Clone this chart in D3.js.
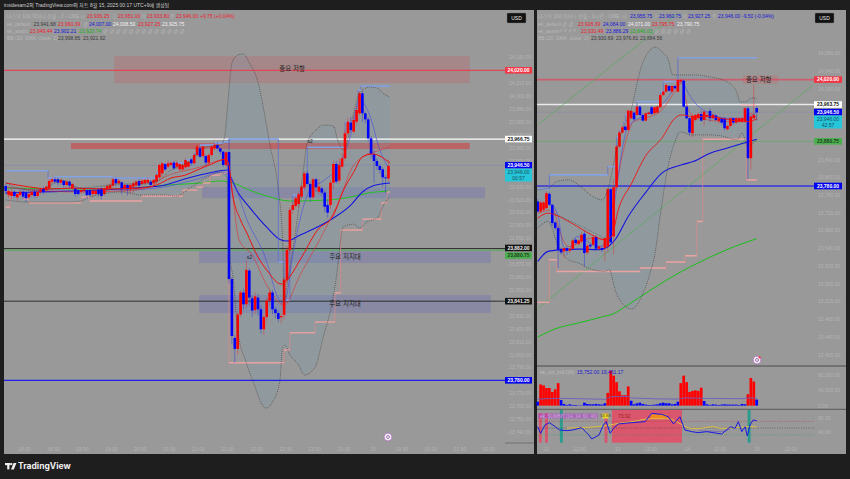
<!DOCTYPE html>
<html><head><meta charset="utf-8">
<script src="https://cdn.jsdelivr.net/npm/d3@7/dist/d3.min.js"></script>
<style>html,body{margin:0;padding:0;background:#1e1e1e}svg{display:block}text{font-family:"Liberation Sans","Noto Sans CJK KR",sans-serif}</style>
</head><body><svg id="c" width="850" height="479"></svg>
<script>
// ---------- LEFT PANE (3-minute) ----------
const leftOpen=[23930.4,23923.4,23922.7,23926,23921.6,23923.4,23926,23925.3,23921.6,23923.4,23926,23922.7,23926,23928.6,23927.3,23928.6,23933.8,23935.6,23935.6,23933,23934.5,23931.2,23933.8,23928.6,23928.6,23927.3,23926,23926.8,23926.8,23926.8,23924.2,23924.2,23927.8,23928.6,23924.2,23927.8,23928.6,23930.7,23935.8,23932.5,23933.3,23928.6,23931.2,23927.8,23929.9,23930.9,23934.3,23932,23932.5,23933,23933.8,23932.5,23933.8,23937.1,23940.2,23947.4,23945.4,23946.7,23948.5,23945.4,23943.3,23943.3,23944.9,23945.4,23951,23948,23954.4,23959.6,23953.6,23953.6,23948.5,23954.4,23959.6,23962.1,23959.6,23957,23946.7,23956.7,23858.4,23812.8,23804.3,23831,23848,23838.8,23865,23843.5,23834.5,23844,23835,23819.5,23829,23841.7,23848,23835,23832,23828.8,23830.6,23857.7,23881,23911.9,23915,23916.5,23922.2,23929.4,23940.2,23932,23921.7,23935.6,23926,23928.6,23925.3,23915.7,23915.7,23933,23947.5,23934.6,23945.4,23951.9,23971.2,23979.5,23972.5,23980.2,23986.7,24002.2,23986.7,23982,23967.3,23955.2,23949.8,23945.9,23943.3,23937.1,23936.25];
const leftClose=[23926.5,23926.5,23926,23922.7,23924.2,23926,23922.2,23920.9,23924.2,23926,23922.7,23926,23927.8,23926,23929.9,23934.3,23935.6,23933.8,23933,23935.1,23931.2,23933.8,23930.7,23932,23924.2,23924.2,23927.3,23927.8,23923.4,23923.4,23926.8,23926.8,23924.2,23922.7,23928.6,23930.4,23931.2,23935.6,23932.5,23934.5,23927.8,23931.2,23927.8,23931.2,23932.5,23933.8,23930.7,23934.5,23935.1,23935.1,23931.2,23935.1,23938.9,23946.7,23948,23943.3,23948,23948.5,23944.1,23948.5,23947.4,23946.7,23950.5,23949.2,23948,23954.4,23960.9,23953.1,23960.9,23948.5,23954.4,23960.9,23962.1,23959.6,23957,23946.7,23956.5,23858.4,23814.3,23804.3,23831,23848,23838.8,23865.5,23844,23834,23845,23835,23819.5,23829,23841.7,23848,23835,23832,23827.5,23829.8,23858,23881,23911.9,23915.7,23920.9,23924.2,23929.9,23940.2,23932,23921.7,23935.6,23929.4,23929.9,23925.3,23914.4,23909.8,23933,23947.5,23933.8,23946.7,23951.9,23971.2,23980.2,23973.8,23981.5,23989.3,24002.2,23986.7,23982,23967.3,23955.2,23949.8,23945.9,23942.8,23937.1,23936.4,23946];
const leftHigh=[23932,23928,23928,23927,23926,23927,23927,23926,23926,23927,23928,23927,23929,23930,23931,23936,23937,23937,23937,23936,23935,23935,23935,23933,23930,23928,23929,23929,23928,23928,23928,23927,23929,23930,23930,23932,23933,23937,23937,23936,23934,23932,23932,23932,23934,23935,23936,23936,23936,23937,23935,23936,23940,23948,23949,23948,23950,23949,23950,23950,23948,23948,23952,23950,23952,23956,23963,23961,23962,23955,23956,23962,23964,23964,23960,23958,23958,23966.8,23860,23815,23833,23850,23851,23873,23867,23846,23848,23847,23838,23831,23844,23850,23850,23837,23834,23832,23860,23884,23914,23918,23923,23926,23932,23942,23942,23934,23937,23937,23936,23930,23927,23920,23935,23950,23950,23952,23956,23974,23983,23984,23985,23992,24004,24004,23988,23984,23969,23958,23952,23947,23945,23939,23951];
const leftLow=[23924,23921,23920,23921,23919,23922,23920,23918,23920,23922,23921,23921,23924,23924,23926,23927,23932,23932,23931,23931,23929,23930,23929,23927,23922,23923,23924,23925,23921,23922,23922,23923,23922,23920,23923,23926,23927,23929,23930,23931,23924,23926,23923,23924,23925,23927,23928,23930,23931,23932,23930,23931,23932,23936,23938,23942,23944,23946,23943,23944,23942,23942,23943,23944,23946,23947,23953,23952,23952,23946,23947,23953,23958,23958,23955,23945,23945,23855,23808,23793.5,23800,23829,23835,23836,23838,23829,23831,23830,23816,23815,23826,23838,23831,23828,23825,23824,23827,23855,23878,23909,23913,23914,23920,23927,23930,23918,23920,23926,23924,23923,23910,23906,23913,23928,23932,23932,23944,23950,23969,23972,23971,23978,23985,23980,23979,23965,23952,23933,23943,23940,23930,23925,23933.8];
const leftBbUpperBars=[0,2,5,8,12,15,19,26,33,39,47,53,56,60,64,67,69,74,75.5,76.6,78,80,82,84,87,89,91,94,95.5,96,97,99,100.5,102.5,104,107,109.5,113,114.5,116.5,120,122,125.5,128,130,132.5];
const leftBbUpper=[23933.5,23930.4,23928.8,23927.3,23927.3,23930.4,23935.1,23928.8,23930.4,23932,23932,23935.1,23941.2,23945.9,23950.5,23958.3,23960.6,23962.1,23968.3,23994.7,24025.6,24031.8,24032.6,24025.6,24010.9,23989.2,23963.7,23927.3,23888.6,23839.8,23853.8,23880.9,23904,23940.5,23963.7,23973.8,23977.6,23976.8,23966,23958.3,23986.9,24002.4,24007,24006.3,24002.4,23999.3];
const leftBbLowerBars=[0,8,22,26,29,40,47,55,59,63.5,69.5,74,76.3,76.8,78.5,80,83,86,88.5,90,92,94.5,95.5,96.3,98,101,103,106.7,109.5,112.5,114.2,115.3,116.3,120,122,124.5,128,130,132.5];
const leftBbLower=[23919.6,23918,23918,23918.8,23921.9,23925.8,23923.4,23923.4,23922.7,23928.8,23937.4,23941.2,23937.4,23883.2,23857.6,23818.9,23793.4,23774.8,23760.8,23758.5,23763.2,23778.7,23805.8,23807.3,23799.6,23791.8,23784.1,23790.3,23813.5,23839.8,23863,23884.7,23898.6,23900.9,23897.9,23902.5,23905.6,23914.1,23922.7];
const leftChanHighBars=[0,14.6,17,37,52,54,57,62,65,67,72,75,77,94,96,98,99,102,103,104,117,120.5,121.5,122.5,132.5];
const leftChanHigh=[23942.2,23936.6,23937.6,23936.6,23940.5,23947.4,23948.2,23950.5,23955.9,23962.1,23963.7,23964.7,23966.8,23871.6,23842.1,23911.8,23923.4,23927.3,23938.9,23960.4,23979.9,23989.2,24004.7,24007.8,24007.8];
const leftChanLowBars=[0,1.5,6,8,26,29,47,61,66,68,70.5,74,76.5,77,95.5,96,98,106.7,113.5,115.5,123,129.5,131.5,132.5];
const leftChanLow=[23914.1,23923.4,23920.3,23917.3,23921.9,23918.8,23922.7,23927.3,23929.6,23932.7,23938.9,23940.7,23942,23793.6,23793.6,23803.4,23816.8,23825.1,23847.6,23896.3,23904.8,23917.3,23925.8,23925.8];
const leftEmaFastBars=[0,4,11,15,23,34,46,52,57,62,66,71,76,77,78,81,83,87,90,95,97,101.5,107.5,113,116.5,120,123,126.5,132.5];
const leftEmaFast=[23932.7,23931.2,23928.8,23928.1,23928.8,23928.1,23928.8,23931.2,23936.6,23938.9,23942.8,23947.4,23951.3,23946.7,23927.3,23904,23894.8,23875.4,23865.4,23854.5,23857.6,23873.1,23896.3,23907.9,23927.3,23941.2,23952.9,23955.2,23948.2];
const leftRedThinBars=[0,10,25,40,50,53,67,75,77,80.5,85,90,96,101.5,110,115.5,119,123,128,132.5];
const leftRedThin=[23929.6,23927.3,23925.8,23926.5,23929.6,23935.1,23945.1,23950.5,23942.8,23888.6,23877,23853.8,23838.3,23861.5,23896.3,23921.9,23942.8,23952.9,23957.4,23960.6];
const leftEmaSlowBars=[0,11,33,49,53,63,70,76.5,77,80,84,90,95,97,101.5,107.5,113,119,123,126.5,132.5];
const leftEmaSlow=[23925,23925.8,23927.3,23929.6,23930.4,23936.6,23940.5,23942.8,23940.5,23925.8,23914.1,23898.6,23888.6,23887.8,23892.5,23898.6,23905.6,23915.7,23925.8,23930.4,23932.7];
const leftBlueThinBars=[0,10,25,40,52,65,75,77,84,88.5,95.5,96.5,99,105,110,115,119,122,125.5,129,132.5];
const leftBlueThin=[23929.6,23927.3,23928.8,23927.3,23928.8,23935.1,23941.2,23938.9,23900,23880.9,23839.8,23842.1,23877,23927.3,23935.1,23946.7,23969.9,23997,23985.4,23958.3,23942.8];
const leftGreenBars=[0,33,44,56,67,74,78.5,84,90,98,111,119,125,132.5];
const leftGreen=[23928.8,23928.1,23928.8,23931.2,23932.7,23934.3,23932.7,23927.3,23922.7,23918.8,23919.6,23921.9,23925,23926.5];
const leftTicks=[24030,24010,24000,23990,23980,23970,23960,23950,23930,23920,23910,23900,23890,23870,23860,23850,23830,23820,23810,23800,23790,23770,23760,23750,23740];
const leftZoneBars=[[37.4,160],[22.5,160],[67.7,165.3],[66.7,167.3],[66.7,167.3]];
const leftZonePrice=[[24031,24010],[23963.7,23959],[23929.6,23921],[23880,23870.8],[23846,23832]];
const leftTimeLabels=["18:00","18:30","19:00","19:30","20:00","20:30","21:00","21:30","22:00","22:30","23:00","23:30","15","00:30","01:00","01:30","02:00"];
const leftTimeBars=[6.4,16.4,26.4,36.4,46.4,56.4,66.4,76.4,86.6,96.6,106.6,116.6,126.6,136.6,146.6,156.6,166.6];

// ---------- RIGHT PANE (1-hour) ----------
const rightOpen=[23745.1,23722.6,23726.3,23730,23762.4,23737.6,23697.8,23685,23638.5,23632.5,23640,23634,23638.5,23658.7,23649,23655,23672.3,23630.2,23647.5,23647.5,23664.7,23638.5,23640,23640,23643.7,23772.9,23666.3,23777.4,23869,23900.5,23914,23906.5,23932.8,23945.6,23940.3,23959,23940.3,23927.5,23942.5,23957.6,23944,23945.6,23957.6,23985.3,23992.9,24005.6,23992.9,24005.6,23992.9,24015.4,24017.6,23959,23932.8,23899,23929,23932.8,23942.5,23929,23936.5,23949.3,23932.8,23938.8,23926.8,23932.8,23932.8,23908,23915.5,23932.8,23923,23925.3,23925.3,23925.3,23955.3,23842.7,23932.8,23955.75];
const rightClose=[23722.6,23742.8,23742.8,23763.9,23737.6,23696.3,23685,23636.2,23630.2,23640,23634,23638.5,23657.2,23651.2,23657.2,23670,23628.7,23645.2,23643.7,23664.7,23638.5,23643.7,23636.2,23662.5,23772.9,23652.7,23777.4,23869,23900.5,23912.5,23906.5,23950,23949.3,23930.5,23959,23940.3,23927.5,23944,23945.6,23942.5,23957.6,23959,23985.3,23992.9,24007.9,23995,24005.6,24000.4,24019,24019,23959,23932.8,23900.5,23938,23940.3,23942.5,23927.5,23947.8,23940.3,23932.8,23940.3,23929,23932.8,23923,23910.3,23915.5,23932.8,23923,23932.8,23932.8,23932.8,23955.3,23842.7,23936.5,23940.3,23946];
const rightHigh=[23750,23746,23746,23768,23766,23740,23700,23690,23641,23642,23645,23640,23660,23662,23660,23675,23680,23650,23650,23668,23668,23646,23644,23665,23775,23776,23795,23872,23905,23915,23916,23952,23951,23948,23962,23962,23942,23946,23948,23960,23960,23962,23987,23995,24012,24008,24007,24007,24021,24022,24020,23962,23935,23942,23943,23946,23950,23950,23945,23955,23945,23942,23935,23935,23935,23918,23935,23935,23935,23935,23936,23958,23960,23942,24008,23960.75];
const rightLow=[23720,23718,23722,23728,23735,23690,23680,23595,23625,23617,23625,23628,23635,23648,23646,23650,23598,23625,23640,23645,23635,23635,23630,23610,23630,23650,23625,23775,23865,23898,23904,23905,23930,23928,23938,23938,23925,23925,23940,23940,23942,23943,23955,23983,23990,23992,23990,23998,23990,24013,23957,23930,23892,23890,23925,23930,23925,23915,23934,23925,23930,23926,23920,23918,23905,23905,23912,23918,23920,23923,23922,23923,23795,23816.5,23930,23927.25];
const rightBbUpperBars=[0,3.6,6.5,10.5,14,18,22,24,26.5,27.5,30,32,34,35.5,38.5,40.2,43,44.5,46.3,54,59,65,68.3,69.3,71,73.4,75];
const rightBbUpper=[23771.4,23775,23789.9,23793.9,23782.6,23760.1,23748.8,23771.4,23846.4,23876.5,23921.5,23951.6,24011.6,24049.2,24086.7,24093.4,24079.9,24068.7,24030.4,24030.4,24025.9,24014.6,23989.8,23969.6,23969.6,23978.6,23976.8];
const rightBbLowerBars=[0,3.6,7,10.5,14,17.3,23,24.5,26.5,29.3,32.2,35.6,38.5,40.2,41.9,44.6,47,48.7,53,59,63,68.3,70,72,75];
const rightBbLower=[23685,23700,23645.2,23613.7,23606.2,23594.9,23587.4,23591.2,23546.2,23512.4,23502.6,23531.1,23583.7,23628.7,23710.6,23823.2,23879.5,23902,23895.2,23895.2,23892.9,23884,23899.7,23870,23884.56];
const rightBasisBars=[5.4,11.6,18.5,23];
const rightBasis=[23718.8,23699.6,23677.5,23661.5];
const rightChanHighBars=[0,4,24,27,28,29.5,30,34,42,43,48,75];
const rightChanHigh=[23772.9,23805.1,23823.9,23890,23906.5,23925,23940.3,23970.3,23992.9,24015.4,24069.3,24069.3];
const rightChanLowBars=[0,4,6.5,35,44,50.5,53.3,54.5,56.5,71.5,75];
const rightChanLow=[23517.6,23613.7,23587.4,23595,23608.5,23622.7,23622.7,23700,23885.5,23793.9,23793.9];
const rightStubBars=[69.5,75];
const rightStub=[23962,23962];
const rightEmaFastBars=[0,3.6,5.9,11.6,18.5,23,25.3,27.6,32.2,36.8,42.5,47,49.3,53.3,59,64.7,70.4,72.2,75];
const rightEmaFast=[23707.6,23718.8,23715,23696.3,23670,23658.7,23666.2,23726.3,23786.4,23846.4,23887.7,23932.8,23940.3,23936.5,23936.5,23930.5,23925.3,23925.3,23931.3];
const rightRedThinBars=[0,5.4,7,10.5,18.5,23.6,26,31,32.8,36.8,42.5,47,49.3,51.6,54,64,70,73,75];
const rightRedThin=[23718.8,23726.3,23688.8,23643.7,23662.5,23658.7,23748.8,23899,23925.3,23932.8,23951.6,23992.9,24011.6,23951.6,23936.5,23925.3,23929,23944,23932.8];
const rightEmaSlowBars=[0,3.6,8.2,14,20.8,24.2,26.5,31,36.8,42.5,49.3,53.3,59,64.7,70.4,75];
const rightEmaSlow=[23609.9,23632.5,23636.2,23637.7,23636.2,23643.7,23658.7,23711.3,23763.9,23808.9,23827.7,23835.2,23853.9,23865.2,23876.5,23885.5];
const rightBlueThinBars=[4.8,7,8.8,10.5,13.4,20.8,24.8,26.5,31,36.8,42.5,47,49.3,51.6,54.5,59,64.7,71,75];
const rightBlueThin=[23737.6,23711.3,23643.7,23636.2,23666.2,23643.7,23658.7,23750,23914,23940.3,23962.8,24000.4,24015.4,23989.1,23962.8,23944,23932.8,23932.8,23947.8];
const rightGreenBars=[0,5.9,14,22,26,31,38,49.3,59.6,67.5,75];
const rightGreen=[23439.5,23457.6,23471.1,23484.6,23492.1,23512.4,23542.4,23587.4,23621.2,23643.8,23661];
const trendOneBars=[0,48];
const trendOne=[23917.8,24170];
const trendTwoBars=[0,94.3];
const trendTwo=[23503.3,24007.9];
const rightTicks=[24080,24040,24000,23840,23800,23760,23720,23680,23640,23600,23560,23520,23480,23440,23400];
const rightTimeLabels=["12","12:00","13","12:00","14","12:00","15","12:00"];
const rightTimeBars=[3,14.3,27.3,38.7,51.2,62.4,75,86.7];

// volume pane
const volumeValues=[10200,55300,52800,46000,46000,35700,42500,58700,14500,4300,1700,3400,1700,1700,850,850,7700,4300,3400,3400,4300,3400,2600,6000,33200,91000,78300,61300,37400,27200,27200,50200,12800,3400,6000,7700,4300,2600,1700,1700,2600,3400,6000,7700,6000,6000,3400,4300,10200,58700,78300,61300,35700,38300,40000,38300,46800,11900,3400,1700,3400,2600,1700,2600,3400,2600,2600,2600,2600,1700,4300,3400,29800,72300,63000,15752];
const volumeUp=[0,1,1,1,1,1,1,1,0,0,0,0,0,0,0,0,0,0,0,0,0,0,0,0,1,1,1,1,1,1,1,1,0,0,0,0,0,0,0,0,0,0,0,0,0,0,0,0,0,1,1,1,1,1,1,1,1,0,0,0,0,0,0,0,0,0,0,0,0,0,0,0,1,1,1,0];
const volumeMaBars=[0,8,23,25,31,32,48,50,57,70,72,75];
const volumeMa=[17000,19000,16500,23000,24000,20000,17000,20000,19000,18000,20000,19451];
const volumeTicks=[80000,40000,0];
// oscillator pane
const oscBars=[0,1,2.5,4,6,7.5,10,12,15,17.5,18.5,21,22.5,23.5,24.8,26,27.6,32,36.8,39,42.5,44.7,46.5,48.7,50.4,52.7,55,57.9,63,66,67.6,68.7,69.9,71,71.8,72.7,73.8,75];
const oscValues=[54.3,34.4,59.3,66.2,54.3,44.3,42.4,44.3,51.3,29.4,17.5,29.4,59.3,69.2,34.4,49.3,62.3,66.2,69.2,94,91,84,62.3,84,44.3,39.4,36.4,39.4,32.4,54.3,49.3,69.2,39.4,54.3,26.4,59.3,74.2,72.2];
const oscSignalBars=[10,22.5,27.6,32,39,44.7,49,52.7,55,60,63,72,75];
const oscSignal=[50,56,64,69,78,78,62,49,49,54,49,54,54];
const oscMidBars=[55,63,66];
const oscMid=[42,40,48];
const oscTicks=[80,40];
const oscLevels=[70,50,30];
const oscPinkBars=[[0.4,1.4],[2.5,3.5],[22.9,23.9],[25.4,49.4]];
const oscTealBars=[[7.6,8.6],[71.9,72.9]];

// ---------- TEXTS ----------
const headline="insidesam2의 TradingView.com의 차트 8월 15, 2025 00:17 UTC+9에 생성됨";
const leftTitle="나스닥 100 이머니 선물 - 3 - CME";
const rightTitle="나스닥 100 이머니 선물 - 1시간 - CME";
const zoneResist="중요 저항", zoneSupport="주요 지지대";

const tickColor="#b4b4b4";
const fmt=d3.format(",.2f");
const svg=d3.select("#c");
svg.append("rect").attr("width",850).attr("height",479).attr("fill","#1e1e1e");
svg.append("rect").attr("x",4).attr("y",10).attr("width",530).attr("height",444).attr("fill","#999999");
svg.append("rect").attr("x",537).attr("y",10).attr("width",309).attr("height",444).attr("fill","#999999");
const defs=svg.append("defs");
function clip(id,x,y,w,h){defs.append("clipPath").attr("id",id).append("rect").attr("x",x).attr("y",y).attr("width",w).attr("height",h);}
clip("cl",4,10,501,433);clip("cr",537,10,278,356);

const xL=d3.scaleLinear().domain([0,132]).range([5.7,388.5]);
const yL=d3.scaleLinear().domain([24020,23780]).range([70.3,380.3]);
const xR=d3.scaleLinear().domain([0,75]).range([537.7,756.7]);
const yR=d3.scaleLinear().domain([24020,23780]).range([79.6,186]);

function mkLine(x,y,curve){return d3.line().x(d=>x(d[0])).y(d=>y(d[1])).curve(curve||d3.curveMonotoneX);}
function draw(g,x,y,bars,vals,stroke,w,o={}){
  g.append("path").attr("d",mkLine(x,y,o.curve)(bars.map((b,i)=>[b,vals[i]])))
   .attr("fill","none").attr("stroke",stroke).attr("stroke-width",w).attr("stroke-opacity",o.op==null?1:o.op)
   .attr("stroke-dasharray",o.dash||null).attr("stroke-linejoin","round");
}
// channel: thin stepped line plus wider treads on the flat runs only
function channel(g,x,y,bars,vals,thick,thin,w){
  draw(g,x,y,bars,vals,thin,.75,{curve:d3.curveStepAfter});
  bars.slice(0,-1).forEach((b,i)=>{
    g.append("line").attr("x1",x(b)).attr("x2",x(bars[i+1])).attr("y1",y(vals[i])).attr("y2",y(vals[i]))
     .attr("stroke",thick).attr("stroke-width",w);
  });
}
function band(g,x,y,ub,uv,lb,lv,fill){
  const pts=ub.map((b,i)=>[b,uv[i]]).concat(lb.map((b,i)=>[b,lv[i]]).reverse());
  g.append("path").attr("d",mkLine(x,y,d3.curveLinear)(pts)+"Z").attr("fill",fill);
}
function candles(g,x,y,o,c,h,l,wid){
  const sel=g.selectAll(null).data(o.map((_,i)=>i)).enter();
  const col=i=>c[i]>=o[i]?"#ff0000":"#0000ff";
  sel.append("line").attr("x1",x).attr("x2",x).attr("y1",i=>y(h[i])).attr("y2",i=>y(l[i]))
     .attr("stroke",col).attr("stroke-opacity",.4).attr("stroke-width",.8);
  sel.append("rect").attr("x",i=>x(i)-wid/2).attr("width",wid)
     .attr("y",i=>y(Math.max(o[i],c[i]))).attr("height",i=>Math.max(.8,Math.abs(y(o[i])-y(c[i])))).attr("fill",col);
}
function hline(g,x1,x2,y,stroke,w,op,dash){
  g.append("line").attr("x1",x1).attr("x2",x2).attr("y1",y).attr("y2",y).attr("stroke",stroke).attr("stroke-width",w).attr("stroke-opacity",op==null?1:op).attr("stroke-dasharray",dash||null);
}
function label(g,x,y,t,fill,size,anchor,weight){
  return g.append("text").attr("x",x).attr("y",y).attr("dy",".35em").attr("fill",fill).attr("font-size",size||5).attr("text-anchor",anchor||"start").attr("font-weight",weight||null).text(t);
}
function tag(g,x,w,y,t,bg,col){
  g.append("rect").attr("x",x).attr("y",y-3.3).attr("width",w).attr("height",6.6).attr("fill",bg);
  label(g,x+w/2,y,t,col,5,"middle","bold");
}
function yAxis(g,scale,ticks,x,f){
  const ax=g.append("g").attr("transform",`translate(${x},0)`).call(d3.axisRight(scale).tickValues(ticks).tickSize(0).tickFormat(f||fmt));
  ax.select(".domain").remove();
  ax.selectAll("text").attr("fill",tickColor).attr("font-size",5).attr("x",0).attr("font-family",'"Liberation Sans",sans-serif');
}
function timeAxis(g,scale,bars,labs,y){
  bars.forEach((b,i)=>label(g,scale(b),y,labs[i],tickColor,5,"middle"));
}
function icon(g,cx,cy,dot){
  g.append("circle").attr("cx",cx).attr("cy",cy).attr("r",3.8).attr("fill","#f4eef6").attr("stroke","#b45bc8").attr("stroke-width",1).attr("stroke-dasharray","1.2 .6");
  g.append("circle").attr("cx",cx).attr("cy",cy).attr("r",1.5).attr("fill","none").attr("stroke","#8a5a9a").attr("stroke-width",.8);
  if(dot)g.append("circle").attr("cx",cx+2.6).attr("cy",cy-2.6).attr("r",1.1).attr("fill","#ff3040");
}
const bbStyle={dash:"1 1",op:.85};

// ===== left pane =====
const L=svg.append("g").attr("clip-path","url(#cl)");
const zoneFill=["rgba(220,60,70,.19)","rgba(220,50,50,.5)","rgba(90,90,200,.25)","rgba(90,90,200,.25)","rgba(90,90,200,.25)"];
leftZoneBars.forEach((b,i)=>{
  const p=leftZonePrice[i];
  L.append("rect").attr("x",xL(b[0])).attr("width",xL(b[1])-xL(b[0])).attr("y",yL(p[0])).attr("height",yL(p[1])-yL(p[0])).attr("fill",zoneFill[i]);
});
band(L,xL,yL,leftBbUpperBars,leftBbUpper,leftBbLowerBars,leftBbLower,"rgba(110,160,180,.2)");
hline(L,4,505,yL(24020),"#f23645",1);
hline(L,4,505,yL(23966.75),"#ffffff",1.4);
hline(L,4,505,yL(23946.5),"#5060c0",.6,.7,"1 1");
hline(L,4,505,yL(23880.75),"#4caf50",.9);
hline(L,4,505,yL(23882),"#222222",.9);
hline(L,4,505,yL(23841.25),"#222222",.9);
hline(L,4,505,yL(23780),"#0000ff",1);
draw(L,xL,yL,leftGreenBars,leftGreen,"#22c122",1);
draw(L,xL,yL,leftEmaSlowBars,leftEmaSlow,"#1515e0",1.1);
channel(L,xL,yL,leftChanHighBars,leftChanHigh,"#86a4e0","#5a6ed0",1.6);
channel(L,xL,yL,leftChanLowBars,leftChanLow,"#e6a4a4","#d88a8a",1.3);
draw(L,xL,yL,leftBlueThinBars,leftBlueThin,"#4a4ae0",.7,{op:.85});
draw(L,xL,yL,leftRedThinBars,leftRedThin,"#e03030",.7,{op:.85});
candles(L,xL,yL,leftOpen,leftClose,leftHigh,leftLow,2.6);
draw(L,xL,yL,leftEmaFastBars,leftEmaFast,"#f01010",1);
draw(L,xL,yL,leftBbUpperBars,leftBbUpper,"#333333",.65,bbStyle);
draw(L,xL,yL,leftBbLowerBars,leftBbLower,"#333333",.65,bbStyle);
label(L,xL(98.8),yL(24021),zoneResist,"#222",6.5,"middle");
label(L,xL(117),yL(23875.5),zoneSupport,"#222",6.5,"middle");
label(L,xL(117),yL(23839),zoneSupport,"#222",6.5,"middle");
label(L,xL(105),yL(23965),"s2","#222",5,"middle");
label(L,xL(84),yL(23875.5),"s2","#222",5,"middle");
icon(L,388,437,false);
yAxis(svg,yL,leftTicks,509);
timeAxis(svg,xL,leftTimeBars,leftTimeLabels,449);
hline(svg,505,534,443,"#707070",1);
// left tags
tag(svg,505,27,yL(24020),fmt(24020),"#f23645","#fff");
tag(svg,505,27,yL(23966.75),fmt(23966.75),"#ffffff","#111");
tag(svg,505,27,yL(23946.5),fmt(23946.5),"#0000ee","#fff");
svg.append("rect").attr("x",505).attr("y",yL(23946.5)+3.3).attr("width",27).attr("height",13).attr("fill","#26c6da");
label(svg,518.5,yL(23946.5)+6.6,fmt(23946),"#17505a",5,"middle");
label(svg,518.5,yL(23946.5)+12.8,"00:57","#17505a",5,"middle");
tag(svg,505,27,yL(23882)-.6,fmt(23882),"#131313","#eee");
tag(svg,505,27,yL(23880.75)+5.4,fmt(23880.75),"#4caf50","#1f3f1f");
tag(svg,505,27,yL(23841.25),fmt(23841.25),"#131313","#eee");
tag(svg,505,27,yL(23780),fmt(23780),"#0000ee","#fff");

// ===== right pane =====
const R=svg.append("g").attr("clip-path","url(#cr)");
R.append("rect").attr("x",xR(70.2)).attr("width",xR(82.2)-xR(70.2)).attr("y",yR(24030)).attr("height",yR(24010)-yR(24030)).attr("fill","rgba(220,80,80,.2)");
band(R,xR,yR,rightBbUpperBars,rightBbUpper,rightBbLowerBars,rightBbLower,"rgba(110,160,180,.2)");
hline(R,537,815,yR(24020),"#e0465c",1.6,.7);
hline(R,537,815,yR(23963.75),"#f4f4f4",1.5,.9);
hline(R,537,815,yR(23946.5),"#5060c0",.5,.6,"1 1");
hline(R,537,815,yR(23880.75),"#4caf50",.6,.9);
hline(R,537,815,yR(23780),"#0000ff",1);
draw(R,xR,yR,trendOneBars,trendOne,"#4caf50",.6,{curve:d3.curveLinear});
draw(R,xR,yR,trendTwoBars,trendTwo,"#4caf50",.6,{curve:d3.curveLinear});
draw(R,xR,yR,rightGreenBars,rightGreen,"#18c018",1);
channel(R,xR,yR,rightChanLowBars,rightChanLow,"#e6a4a4","#d88a8a",1.5);
channel(R,xR,yR,rightChanHighBars,rightChanHigh,"#86a4e0","#5a6ed0",1.6);
draw(R,xR,yR,rightStubBars,rightStub,"#e8a8a8",1.4);
draw(R,xR,yR,rightRedThinBars,rightRedThin,"#e03030",.7,{op:.85});
draw(R,xR,yR,rightBlueThinBars,rightBlueThin,"#4a4ae0",.7,{op:.85});
draw(R,xR,yR,rightEmaSlowBars,rightEmaSlow,"#1515e0",1.1);
candles(R,xR,yR,rightOpen,rightClose,rightHigh,rightLow,2.6);
draw(R,xR,yR,rightEmaFastBars,rightEmaFast,"#f01010",.9);
draw(R,xR,yR,rightBasisBars,rightBasis,"#333333",.5,bbStyle);
draw(R,xR,yR,rightBbUpperBars,rightBbUpper,"#333333",.65,bbStyle);
draw(R,xR,yR,rightBbLowerBars,rightBbLower,"#333333",.65,bbStyle);
label(R,xR(75.7),yR(24020),zoneResist,"#222",6.5,"middle");
icon(R,757,360,true);
yAxis(svg,yR,rightTicks,818);
tag(svg,814,28,yR(24020),fmt(24020),"#f23645","#fff");
tag(svg,814,28,yR(23963.75),fmt(23963.75),"#ffffff","#111");
tag(svg,814,28,yR(23946.5),fmt(23946.5),"#0000ee","#fff");
svg.append("rect").attr("x",814).attr("y",yR(23946.5)+3.3).attr("width",28).attr("height",13).attr("fill","#26c6da");
label(svg,828,yR(23946.5)+6.6,fmt(23946),"#17505a",5,"middle");
label(svg,828,yR(23946.5)+12.8,"42:57","#17505a",5,"middle");
tag(svg,814,28,yR(23880.75),fmt(23880.75),"#4caf50","#1f3f1f");
tag(svg,814,28,yR(23780),fmt(23780),"#0000ee","#fff");

// USD boxes
[[507,13],[815,13]].forEach(p=>{
  svg.append("rect").attr("x",p[0]).attr("y",p[1]).attr("width",19).attr("height",10).attr("rx",1).attr("fill","#131313").attr("stroke","#777").attr("stroke-width",.4);
  label(svg,p[0]+9.5,p[1]+5,"USD","#eee",5,"middle");
});

// volume pane
hline(svg,537,846,366,"#666",1.4);
const yV=d3.scaleLinear().domain([0,80000]).range([405.6,375]);
svg.append("g").selectAll("rect").data(volumeValues).enter().append("rect")
  .attr("x",(d,i)=>xR(i)-1.35).attr("width",2.7).attr("y",d=>yV(d)).attr("height",d=>yV(0)-yV(d))
  .attr("fill",(d,i)=>volumeUp[i]?"#ff0000":"#0000ff");
draw(svg,xR,yV,volumeMaBars,volumeMa,"#6a5fc0",.9);
yAxis(svg,yV,volumeTicks,818);
label(svg,540,372.5,"ek_vol_ind (24)","#bdbdbd",5);
label(svg,577,372.5,"15,752.00","#2020d0",5);
label(svg,601,372.5,"19,451.17","#2020d0",5);

// oscillator pane
hline(svg,537,846,409.4,"#666",1.4);
const yO=d3.scaleLinear().domain([50,70]).range([428.1,421.4]);
const oscG=svg.append("g");
oscPinkBars.forEach(b=>oscG.append("rect").attr("x",xR(b[0])).attr("width",xR(b[1])-xR(b[0])).attr("y",b[1]-b[0]>5?410:413).attr("height",b[1]-b[0]>5?32.7:29.7).attr("fill","#d9566c"));
oscTealBars.forEach(b=>oscG.append("rect").attr("x",xR(b[0])).attr("width",xR(b[1])-xR(b[0])).attr("y",410).attr("height",32.7).attr("fill","#2a9d8f"));
const oscDash=["#b04050","#444","#3a9a5a"];
oscLevels.forEach((v,i)=>hline(oscG,537,815,yO(v),oscDash[i],.6,.8,"1.2 1.2"));
oscG.append("rect").attr("x",538).attr("y",413.5).attr("width",60).attr("height",5).attr("fill","#b048c8").attr("fill-opacity",.6);
label(oscG,540,416,"ek_SUMBIT (14, 14, 60, 40)","#caa8d8",4.6);
oscG.append("rect").attr("x",602.5).attr("y",413.5).attr("width",6).attr("height",5).attr("fill","#e8d830");
label(oscG,605.5,416,"53.88","#5a5010",4.2,"middle");
label(oscG,618,416,"73.02","#a01818",5);
oscG.append("rect").attr("x",xR(38.7)).attr("y",414.3).attr("width",16).attr("height",4).attr("fill","#f08a20");
draw(oscG,xR,yO,oscSignalBars,oscSignal,"#e0c040",1);
draw(oscG,xR,yO,oscMidBars,oscMid,"#6a5fc0",.7);
draw(oscG,xR,yO,oscBars,oscValues,"#1a1ae0",1,{curve:d3.curveLinear});
yAxis(svg,yO,oscTicks,818);
timeAxis(svg,xR,rightTimeBars,rightTimeLabels,449);

// legends
label(svg,4,5.7,headline,"#cfcfcf",5);
const legendDark="#3a3a3a",legendRed="#ee2030",legendBlue="#1616d8",legendWhite="#f4f4f4",legendGreen="#18b018",legendGray="#b8b8b8";
function row(y,items){items.forEach(it=>label(svg,it[0],y,it[1],it[2],it[3]||5));}
row(16.7,[[7,leftTitle,legendGray],[80,"시",legendGray],[87,"23,936.25",legendRed],[112,"고",legendGray],[118,"23,951.00",legendRed],[141,"저",legendGray],[147,"23,933.80",legendRed],[170,"종",legendGray],[176,"23,946.00",legendRed],[200,"+9.75 (+0.04%)",legendRed]]);
row(24,[[7,"ek_default",legendGray],[33.5,"23,941.68",legendDark],[58,"23,960.39",legendRed],[83,"∅",legendGray],[89,"24,007.00",legendBlue],[113,"24,008.50",legendWhite],[138,"23,927.25",legendRed],[162,"23,925.75",legendWhite]]);
row(31,[[7,"ek_assist",legendGray],[30,"23,949.44",legendRed],[54,"23,902.21",legendBlue],[79,"23,920.74",legendGreen],[103,"∅ ∅ ∅ ∅ ∅ ∅ ∅ ∅ ∅ ∅ ∅ ∅ ∅",legendGray]]);
row(38.3,[[7,"BB (20, SMA, close, 2)",legendGray],[58,"23,998.85",legendDark],[83,"23,921.92",legendDark]]);
row(16.7,[[538,rightTitle,legendGray],[622,"시",legendGray],[630,"23,955.75",legendBlue],[653,"고",legendGray],[659,"23,960.75",legendBlue],[682,"저",legendGray],[688,"23,927.25",legendBlue],[712,"종",legendGray],[718,"23,946.00",legendBlue],[742,"-9.50 (-0.04%)",legendBlue]]);
row(24,[[538,"ek_default",legendGray],[562,"∅ ∅",legendGray],[578,"23,928.39",legendRed],[603,"24,064.00",legendBlue],[628,"24,071.00",legendWhite],[652,"23,795.75",legendRed],[677,"23,790.75",legendWhite]]);
row(31,[[538,"ek_assist",legendGray],[559,"∅ ∅ ∅ ∅",legendGray,3.6],[581,"23,930.49",legendRed],[606,"23,886.29",legendBlue],[630,"23,846.03",legendGreen],[654,"∅ ∅ ∅ ∅ ∅ ∅",legendGray]]);
row(38.3,[[538,"BB (20, SMA, close, 2)",legendGray],[591,"23,930.69",legendDark],[616,"23,976.81",legendDark],[640,"23,884.56",legendDark]]);

// footer logo
const F=svg.append("g").attr("fill","#f0f0f0");
F.append("rect").attr("x",5).attr("y",463).attr("width",5.6).attr("height",2.2);
F.append("rect").attr("x",7.2).attr("y",463).attr("width",2.2).attr("height",6.4);
F.append("circle").attr("cx",11.4).attr("cy",464.1).attr("r",1.1);
F.append("path").attr("d",d3.line()([[13.6,463],[16.4,463],[13.8,469.4],[11,469.4]])+"Z");
F.append("text").attr("x",18).attr("y",466.2).attr("dy",".35em").attr("font-size",8.5).attr("font-weight","bold").attr("style",'font-family:Inter,"Liberation Sans",sans-serif').text("TradingView");
</script></body></html>
